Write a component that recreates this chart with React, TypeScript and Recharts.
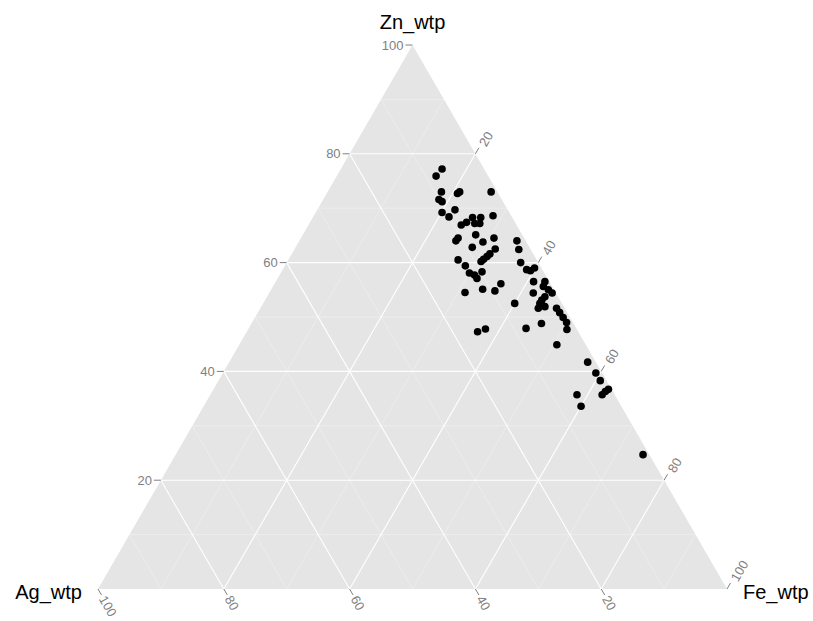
import { Area, ComposedChart, ReferenceLine, Scatter, XAxis, YAxis } from 'recharts';

const S3 = Math.sqrt(3) / 2;
const TOP = 100 * S3;

// sample compositions (wt%)
const zn = [
  77.2, 75.9, 73.0, 72.7, 73.0, 73.0, 71.6, 71.2, 69.2, 69.7, 68.4, 66.9, 67.4, 68.3, 67.2, 68.3, 67.2, 68.6, 64.5,
  64.0, 65.1, 63.8, 64.5, 62.8, 62.5, 61.6, 61.1, 60.6, 60.2, 60.5, 59.4, 58.1, 57.7, 57.1, 58.3, 54.5, 55.1, 54.8,
  56.1, 47.3, 47.8, 64.0, 62.4, 60.0, 58.7, 58.5, 59.0, 52.5, 56.5, 56.5, 55.6, 55.0, 54.4, 54.4, 53.7, 53.1, 52.5,
  51.9, 51.6, 51.6, 50.8, 49.9, 49.0, 47.7, 48.8, 47.9, 44.9, 41.7, 39.7, 38.3, 35.7, 35.7, 36.3, 36.7, 33.6, 24.7,
];
const fe = [
  16.1, 15.8, 18.1, 20.8, 21.0, 26.0, 18.4, 19.1, 20.1, 21.9, 21.6, 24.3, 24.9, 25.4, 26.3, 26.7, 27.1, 28.5, 25.0,
  24.9, 27.5, 29.3, 30.7, 28.1, 31.9, 31.5, 31.3, 31.0, 30.8, 27.0, 28.7, 30.0, 31.0, 31.7, 31.9, 31.1, 33.6, 35.7,
  36.0, 36.7, 37.7, 34.6, 35.7, 37.2, 38.8, 39.5, 39.9, 40.0, 41.0, 42.8, 43.0, 44.1, 45.0, 42.0, 44.2, 44.0, 44.0,
  45.1, 44.2, 47.1, 48.0, 49.0, 50.0, 50.7, 46.1, 44.1, 50.5, 57.0, 59.3, 60.7, 58.3, 62.3, 62.5, 62.8, 60.0, 74.3,
];
const ag = [
  6.7, 8.3, 8.9, 6.5, 6.0, 1.0, 10.0, 9.7, 10.7, 8.4, 10.0, 8.8, 7.7, 6.3, 6.5, 5.0, 5.7, 2.9, 10.5,
  11.1, 7.4, 6.9, 4.8, 9.1, 5.6, 6.9, 7.6, 8.4, 9.0, 12.5, 11.9, 11.9, 11.3, 11.2, 9.8, 14.4, 11.3, 9.5,
  7.9, 16.0, 14.5, 1.4, 1.9, 2.8, 2.5, 2.0, 1.1, 7.5, 2.5, 0.7, 1.4, 0.9, 0.6, 3.6, 2.1, 2.9, 3.5,
  3.0, 4.2, 1.3, 1.2, 1.1, 1.0, 1.6, 5.1, 8.0, 4.6, 1.3, 1.0, 1.0, 6.0, 2.0, 1.2, 0.5, 6.4, 1.0,
];

const tickValues = [20, 40, 60, 80, 100];
const majorBreaks = [20, 40, 60, 80];
const minorBreaks = [10, 30, 50, 70, 90];

// ternary -> cartesian (Ag bottom-left, Fe bottom-right, Zn top)
function project(z: number, f: number, a: number) {
  const t = z + f + a;
  const zz = (z / t) * 100;
  const ff = (f / t) * 100;
  return { x: ff + zz / 2, y: zz * S3 };
}

const points = zn.map((z, i) => project(z, fe[i], ag[i]));
const triangle = [
  { x: 0, y: 0 },
  { x: 50, y: TOP },
  { x: 100, y: 0 },
];

function gridSegments(k: number) {
  return [
    // Zn constant
    [project(k, 0, 100 - k), project(k, 100 - k, 0)],
    // Fe constant
    [project(0, k, 100 - k), project(100 - k, k, 0)],
    // Ag constant
    [project(0, 100 - k, k), project(100 - k, 0, k)],
  ];
}

const znTicks = tickValues.map((k) => ({ ...project(k, 0, 100 - k), label: String(k) }));
const feTicks = tickValues.map((k) => ({ ...project(100 - k, k, 0), label: String(k) }));
const agTicks = tickValues.map((k) => ({ ...project(0, 100 - k, k), label: String(k) }));
const titles = [
  { ...project(100, 0, 0), label: 'Zn_wtp', pos: 'top' },
  { ...project(0, 0, 100), label: 'Ag_wtp', pos: 'left' },
  { ...project(0, 100, 0), label: 'Fe_wtp', pos: 'right' },
];

const FONT = '"Liberation Sans", Arial, sans-serif';
const TICK_COLOR = '#808080';
const TICK_SIZE = 13;

function ZnTick(p: any) {
  const { cx, cy, payload } = p;
  return (
    <g>
      <line x1={cx} y1={cy} x2={cx - 7} y2={cy} stroke={TICK_COLOR} strokeWidth={1} />
      <text x={cx - 9} y={cy} dy="0.35em" textAnchor="end" fontSize={TICK_SIZE} fill={TICK_COLOR} fontFamily={FONT}>
        {payload.label}
      </text>
    </g>
  );
}

function FeTick(p: any) {
  const { cx, cy, payload } = p;
  const lx = cx + 0.5 * 10 + 2;
  const ly = cy - S3 * 10;
  return (
    <g>
      <line x1={cx} y1={cy} x2={cx + 3.5} y2={cy - 6} stroke={TICK_COLOR} strokeWidth={1} />
      <text
        x={lx}
        y={ly}
        dy="0.35em"
        textAnchor="start"
        fontSize={TICK_SIZE}
        fill={TICK_COLOR}
        fontFamily={FONT}
        transform={`rotate(-60 ${lx} ${ly})`}
      >
        {payload.label}
      </text>
    </g>
  );
}

function AgTick(p: any) {
  const { cx, cy, payload } = p;
  const lx = cx + 0.5 * 9;
  const ly = cy + S3 * 9;
  return (
    <g>
      <line x1={cx} y1={cy} x2={cx + 3.5} y2={cy + 6} stroke={TICK_COLOR} strokeWidth={1} />
      <text
        x={lx}
        y={ly}
        dy="0.35em"
        textAnchor="start"
        fontSize={TICK_SIZE}
        fill={TICK_COLOR}
        fontFamily={FONT}
        transform={`rotate(60 ${lx} ${ly})`}
      >
        {payload.label}
      </text>
    </g>
  );
}

function Title(p: any) {
  const { cx, cy, payload } = p;
  let x = cx;
  let y = cy - 16;
  let anchor: 'middle' | 'start' | 'end' = 'middle';
  if (payload.pos === 'left') {
    x = cx - 16;
    y = cy + 10;
    anchor = 'end';
  } else if (payload.pos === 'right') {
    x = cx + 16;
    y = cy + 10;
    anchor = 'start';
  }
  return (
    <text x={x} y={y} textAnchor={anchor} fontSize={20} fill="#000" fontFamily={FONT}>
      {payload.label}
    </text>
  );
}

export default function App() {
  return (
    <div style={{ position: 'absolute', left: 0, top: 0 }}>
      <ComposedChart width={813} height={621} data={triangle} margin={{ top: 45, right: 86, bottom: 32, left: 98 }}>
        <XAxis type="number" dataKey="x" domain={[0, 100]} hide />
        <YAxis type="number" dataKey="y" domain={[0, TOP]} hide />
        <Area
          type="linear"
          dataKey="y"
          stroke="none"
          fill="#e5e5e5"
          fillOpacity={1}
          isAnimationActive={false}
          dot={false}
          activeDot={false}
        />
        {minorBreaks.flatMap((k) =>
          gridSegments(k).map((seg, j) => (
            <ReferenceLine
              key={`mi-${k}-${j}`}
              segment={seg}
              stroke="#f2f2f2"
              strokeWidth={0.6}
              ifOverflow="visible"
            />
          ))
        )}
        {majorBreaks.flatMap((k) =>
          gridSegments(k).map((seg, j) => (
            <ReferenceLine
              key={`ma-${k}-${j}`}
              segment={seg}
              stroke="#ffffff"
              strokeWidth={1.1}
              ifOverflow="visible"
            />
          ))
        )}
        <Scatter
          data={points}
          fill="#000"
          isAnimationActive={false}
          shape={(p: any) => <circle cx={p.cx} cy={p.cy} r={3.8} fill="#000" />}
        />
        <Scatter data={znTicks} isAnimationActive={false} shape={ZnTick} />
        <Scatter data={feTicks} isAnimationActive={false} shape={FeTick} />
        <Scatter data={agTicks} isAnimationActive={false} shape={AgTick} />
        <Scatter data={titles} isAnimationActive={false} shape={Title} />
      </ComposedChart>
    </div>
  );
}
